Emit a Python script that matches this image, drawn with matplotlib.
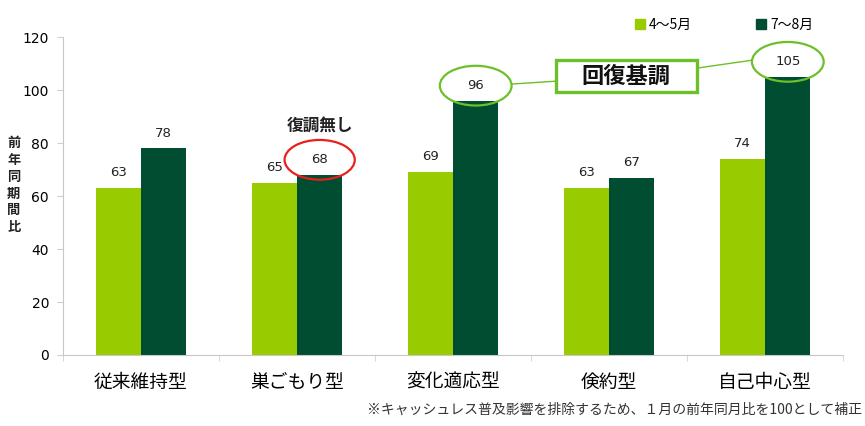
import matplotlib.pyplot as plt
from matplotlib.patches import Ellipse, Patch, Rectangle
import numpy as np

plt.rcParams['font.family'] = ['Noto Sans CJK JP', 'DejaVu Sans']

categories = ['従来維持型', '巣ごもり型', '変化適応型', '倹約型', '自己中心型']
apr_may = [63, 65, 69, 63, 74]
jul_aug = [78, 68, 96, 67, 105]
series_names = ['4～5月', '7～8月']
light = '#99CC00'
dark = '#004D31'

fig = plt.figure(figsize=(8.65, 4.26), dpi=100)
ax = fig.add_axes([0.0728, 0.1667, 0.902, 0.746])

x = np.arange(len(categories))
w = 0.29
b1 = ax.bar(x - w / 2, apr_may, w, color=light)
b2 = ax.bar(x + w / 2, jul_aug, w, color=dark)

num_font = ['DejaVu Sans', 'Noto Sans CJK JP']
for bars, vals in [(b1, apr_may), (b2, jul_aug)]:
    for r, v in zip(bars, vals):
        ax.annotate(str(v), (r.get_x() + r.get_width() / 2, v), xytext=(0, 11),
                    textcoords='offset points', ha='center', va='center',
                    fontsize=9.5, family=num_font, color='#222222')

ax.set_xlim(-0.5, len(categories) - 0.5)
ax.set_ylim(0, 120)
ax.set_yticks(range(0, 121, 20))
ax.set_yticklabels([str(v) for v in range(0, 121, 20)], family=num_font, fontsize=10)
ax.set_xticks(x)
ax.set_xticklabels(categories, fontsize=13.5)
ax.set_xticks(np.arange(-0.5, len(categories)), minor=True)
ax.tick_params(axis='x', which='major', length=0, pad=12)
ax.tick_params(axis='x', which='minor', length=4, color='#D0D0D0')
ax.tick_params(axis='y', length=4, color='#D0D0D0', pad=6)
for s in ['top', 'right']:
    ax.spines[s].set_visible(False)
for s in ['left', 'bottom']:
    ax.spines[s].set_color('#C8C8C8')

# vertical y label
fig.text(0.016, 0.565, '\n'.join('前年同期間比'), ha='center', va='center',
         fontsize=9.5, linespacing=1.25, color='#222222', fontweight='bold')

# highlight ellipses
ax.add_patch(Ellipse((1 + w / 2, jul_aug[1] + 5.7), 0.45, 15, fill=False,
                     edgecolor='#E8201E', lw=1.6, clip_on=False))
ax.text(1 + w / 2, jul_aug[1] + 18.6, '復調無し', ha='center', va='center',
        fontsize=12, fontweight='bold', color='#222222')
green = '#6CC02A'
for i in [2, 4]:
    ax.add_patch(Ellipse((i + w / 2, jul_aug[i] + 5.7), 0.46, 15, fill=False,
                         edgecolor=green, lw=1.6, clip_on=False))

ax.add_patch(Rectangle((2.66, 99.2), 0.9, 12.1, fc='white', ec=green, lw=2.4,
                       clip_on=False, zorder=3))
ax.text(3.11, 105.3, '回復基調', ha='center', va='center', fontsize=16,
        fontweight='bold', color='#111111', zorder=4)
ax.plot([2 + w / 2 + 0.23, 2.66], [102.3, 103.4], color=green, lw=1, clip_on=False)
ax.plot([3.56, 4 + w / 2 - 0.23], [108.3, 111.3], color=green, lw=1, clip_on=False)

handles = [Patch(color=light), Patch(color=dark)]
fig.legend(handles, series_names, loc='center left', bbox_to_anchor=(0.72, 0.942),
           ncol=2, frameon=False, fontsize=10, handlelength=0.7, handleheight=0.7,
           handletextpad=0.3, columnspacing=4.6)

fig.text(0.424, 0.038, '※キャッシュレス普及影響を排除するため、１月の前年同月比を100として補正',
         ha='left', va='center', fontsize=10, color='#333333')

fig.savefig('out.png', dpi=100)
